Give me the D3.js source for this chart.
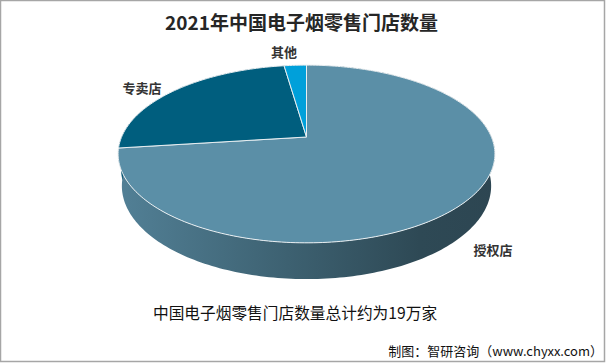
<!DOCTYPE html>
<html>
<head>
<meta charset="utf-8">
<script src="https://cdn.jsdelivr.net/npm/d3@7"></script>
<style>
  body { margin: 0; background: #fff; }
  text { font-family: "Noto Sans CJK SC", "Noto Sans", sans-serif; }
</style>
</head>
<body>
<div id="canvas"></div>
<script>
// data
var labels = ['授权店', '专卖店', '其他'];
var values = [73.0, 24.7, 2.3];
var colors = ['#5b8fa7', '#005e7e', '#00a0da'];

var W = 606, H = 363;

var svg = d3.select('#canvas')
    .append('svg')
    .attr('width', W)
    .attr('height', H);

// border
svg.append('rect')
    .attr('x', 0.5).attr('y', 0.5)
    .attr('width', 604).attr('height', 361)
    .attr('fill', '#fff')
    .attr('stroke', '#a6a6a6')
    .attr('stroke-width', 1.5);

// simple perspective for the tilted pie
var cx = 306.5, cy = 137,
    f = 858, D = 4.64,
    phi = Math.asin(0.463),
    thick = 0.196;

function proj(a, down){
    var u = Math.sin(a), v = Math.cos(a);
    var yc = v * Math.sin(phi) - down * Math.cos(phi),
        zc = D + v * Math.cos(phi) + down * Math.sin(phi);
    return [cx + f * u / zc, cy - f * yc / zc];
}

function rim(a0, a1, down){
    var n = Math.max(2, Math.ceil((a1 - a0) / 0.02)), pts = [];
    for (var i = 0; i <= n; i++) pts.push(proj(a0 + (a1 - a0) * i / n, down));
    return pts;
}

var line = d3.line();
var pie = d3.pie().sort(null).value(function(d){ return d; });
var arcs = pie(values);

// side gradients
var defs = svg.append('defs');
arcs.forEach(function(d, i){
    var c = d3.color(colors[i]);
    var g = defs.append('linearGradient')
        .attr('id', 'side' + i)
        .attr('gradientUnits', 'userSpaceOnUse')
        .attr('x1', 118).attr('x2', 495).attr('y1', 0).attr('y2', 0);
    g.append('stop').attr('offset', '0%').attr('stop-color', c.darker(0.3));
    g.append('stop').attr('offset', '45%').attr('stop-color', c.darker(1.1));
    g.append('stop').attr('offset', '80%').attr('stop-color', c.darker(1.9));
    g.append('stop').attr('offset', '100%').attr('stop-color', c.darker(2.0));
});

// sides
svg.append('g').selectAll('path')
    .data(arcs)
    .enter()
    .append('path')
    .attr('d', function(d){
        var top = rim(d.startAngle, d.endAngle, 0),
            bot = rim(d.startAngle, d.endAngle, thick).reverse();
        return line(top.concat(bot)) + 'Z';
    })
    .attr('fill', function(d, i){ return 'url(#side' + i + ')'; });

// top faces
svg.append('g').selectAll('path')
    .data(arcs)
    .enter()
    .append('path')
    .attr('d', function(d){
        return line([[cx, cy]].concat(rim(d.startAngle, d.endAngle, 0))) + 'Z';
    })
    .attr('fill', function(d, i){ return colors[i]; })
    .attr('stroke', '#e8eef1')
    .attr('stroke-width', 1)
    .attr('stroke-linejoin', 'round');

// slice labels
var labelPos = [[493, 255], [142, 93], [284, 57]];
svg.append('g').selectAll('text')
    .data(labels)
    .enter()
    .append('text')
    .attr('x', function(d, i){ return labelPos[i][0]; })
    .attr('y', function(d, i){ return labelPos[i][1]; })
    .attr('text-anchor', 'middle')
    .attr('font-size', '13px')
    .attr('font-weight', 'bold')
    .attr('fill', '#333')
    .text(function(d){ return d; });

// title
svg.append('text')
    .attr('x', 301.5).attr('y', 30)
    .attr('text-anchor', 'middle')
    .attr('font-size', '19px')
    .attr('font-weight', 'bold')
    .attr('fill', '#262626')
    .text('2021年中国电子烟零售门店数量');

// note
svg.append('text')
    .attr('x', 153).attr('y', 319)
    .attr('font-size', '15.7px')
    .attr('fill', '#111')
    .text('中国电子烟零售门店数量总计约为19万家');

// source
svg.append('text')
    .attr('x', 603).attr('y', 356)
    .attr('text-anchor', 'end')
    .attr('font-size', '13px')
    .attr('fill', '#111')
    .text('制图：智研咨询（www.chyxx.com）');
</script>
</body>
</html>
